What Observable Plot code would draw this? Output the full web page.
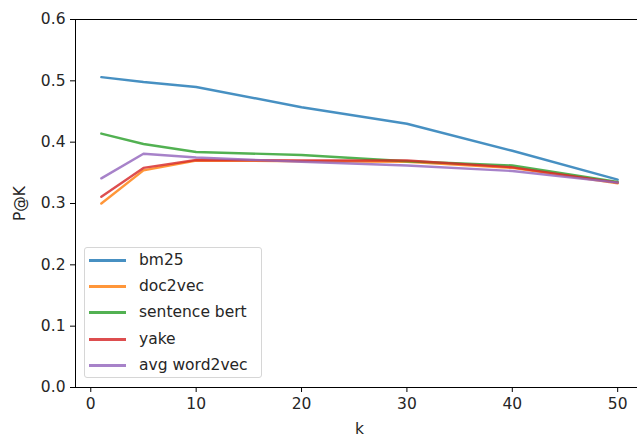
<!DOCTYPE html>
<html>
<head>
<meta charset="utf-8">
<script src="https://cdn.jsdelivr.net/npm/d3@7"></script>
<script src="https://cdn.jsdelivr.net/npm/@observablehq/plot@0.6"></script>
<style>
  html, body { margin: 0; padding: 0; background: #fff; }
  #wrap { position: relative; width: 637px; height: 439px; overflow: hidden; font-family: "DejaVu Sans", sans-serif; }
  #wrap svg { max-width: none !important; }
  #legend { position: absolute; left: 84px; top: 247px; width: 178px; height: 131px; border: 1px solid #d6d6d6; border-radius: 3px; background: rgba(255,255,255,0.8); box-sizing: border-box; }
  .row { position: absolute; left: 0; height: 20px; }
  .sw { position: absolute; left: 4px; width: 37px; height: 3px; top: 9px; }
  .lab { position: absolute; left: 54px; top: 0; line-height: 20px; font-size: 15.5px; color: #262626; white-space: nowrap; }
</style>
</head>
<body>
<div id="wrap"></div>
<script>
const ks = [1, 5, 10, 20, 30, 40, 50];
const seriesNames = ["bm25", "doc2vec", "sentence bert", "yake", "avg word2vec"];
const bm25 = [0.506, 0.498, 0.490, 0.457, 0.430, 0.386, 0.339];
const doc2vec = [0.300, 0.354, 0.370, 0.369, 0.368, 0.358, 0.333];
const sentenceBert = [0.414, 0.397, 0.384, 0.379, 0.369, 0.362, 0.335];
const yake = [0.311, 0.358, 0.371, 0.370, 0.370, 0.359, 0.334];
const avgWord2vec = [0.341, 0.381, 0.375, 0.368, 0.362, 0.353, 0.334];
const colors = ["#1f77b4", "#ff7f0e", "#2ca02c", "#d62728", "#9467bd"];
const xTicks = [0, 10, 20, 30, 40, 50];
const yTicks = [0, 0.1, 0.2, 0.3, 0.4, 0.5, 0.6];

const seriesValues = [bm25, doc2vec, sentenceBert, yake, avgWord2vec];
const rows = [];
seriesNames.forEach((name, i) => {
  ks.forEach((k, j) => rows.push({series: name, k, p: seriesValues[i][j]}));
});

const fontSize = 15.5;
const chart = Plot.plot({
  width: 650,
  height: 439,
  marginLeft: 75,
  marginRight: 7,
  marginTop: 19,
  marginBottom: 52,
  style: {fontFamily: "DejaVu Sans, sans-serif", fontSize: fontSize + "px", color: "#262626", background: "#fff", maxWidth: "none"},
  x: {domain: [-1.45, 52.45]},
  y: {domain: [0, 0.6]},
  color: {domain: seriesNames, range: colors},
  marks: [
    Plot.lineY(rows, {x: "k", y: "p", stroke: "series", strokeWidth: 2.4, strokeOpacity: 0.82}),
    Plot.frame({stroke: "#000", strokeWidth: 1}),
    Plot.axisX({ticks: xTicks, tickSize: 5, tickPadding: 5, fontSize, label: "k", labelAnchor: "center", labelArrow: "none", labelOffset: 46, stroke: "#000"}),
    Plot.axisY({ticks: yTicks, tickFormat: d3.format(".1f"), tickSize: 5, tickPadding: 5, fontSize, label: "P@K", labelAnchor: "center", labelArrow: "none", labelOffset: 62, stroke: "#000"})
  ]
});
const wrap = document.getElementById("wrap");
wrap.appendChild(chart);

const legend = d3.select(wrap).append("div").attr("id", "legend");
seriesNames.forEach((name, i) => {
  const row = legend.append("div").attr("class", "row").style("top", Math.round(2 + i * 26.2) + "px").style("width", "100%");
  row.append("div").attr("class", "sw").style("background", colors[i]).style("opacity", 0.82);
  row.append("div").attr("class", "lab").text(name);
});
</script>
</body>
</html>
